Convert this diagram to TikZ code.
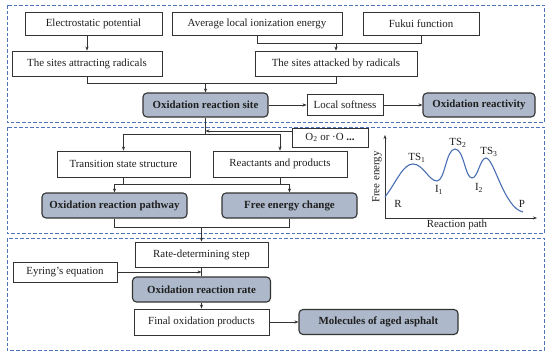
\documentclass[tikz,border=0pt]{standalone}
\usepackage{fontspec}
\setmainfont{Liberation Serif}
\usetikzlibrary{arrows.meta}
\definecolor{dashblue}{HTML}{4F73B8}
\definecolor{boxfill}{HTML}{ADB9CA}
\definecolor{linegray}{HTML}{333333}
\definecolor{curveblue}{HTML}{4A6FB5}
\begin{document}
\begin{tikzpicture}[x=1pt,y=-1pt, font=\fontsize{10.9}{12}\selectfont,
 panel/.style={draw=dashblue, line width=0.9pt, dash pattern=on 3.5pt off 2pt},
 plainbox/.style={draw=linegray, line width=0.9pt, fill=white, inner sep=0pt, align=center, text=black!88},
 keybox/.style={plainbox, fill=boxfill, rounded corners=4pt, line width=1.1pt, font=\fontsize{10.9}{12}\selectfont\bfseries},
 conn/.style={draw=linegray, line width=0.85pt},
 arr/.style={conn, -{Stealth[length=4pt,width=3.2pt]}},
 lbl/.style={inner sep=0pt, text=black!88},
]
\useasboundingbox[fill=white] (0,0) rectangle (550,356);
% panels
\draw[panel] (7,5) rectangle (544,122);
\draw[panel] (7,127) rectangle (544,233);
\draw[panel] (7,238) rectangle (544,350);
% panel 1
\node[plainbox, minimum width=137pt, minimum height=23pt] (es) at (93.5,23.5) {Electrostatic potential};
\node[plainbox, minimum width=170pt, minimum height=23pt] (ali) at (257,23.5) {Average local ionization energy};
\node[plainbox, minimum width=116pt, minimum height=23pt] (fk) at (421,23.5) {Fukui function};
\node[plainbox, minimum width=150pt, minimum height=25pt] (attr) at (87,63.5) {The sites attracting radicals};
\node[plainbox, minimum width=162pt, minimum height=25pt] (atk) at (336,63.5) {The sites attacked by radicals};
\node[keybox, minimum width=125pt, minimum height=24pt] (site) at (205.5,105) {Oxidation reaction site};
\node[plainbox, minimum width=76pt, minimum height=21pt] (ls) at (345,105) {Local softness};
\node[keybox, minimum width=112pt, minimum height=24pt] (react) at (479,105) {Oxidation reactivity};
% panel 2
\node[plainbox, minimum width=76pt, minimum height=19pt] (o2) at (330,137.5) {O\textsubscript{2} or ·O \textbf{...}};
\node[plainbox, minimum width=133pt, minimum height=26pt] (ts) at (123.5,164) {Transition state structure};
\node[plainbox, minimum width=134pt, minimum height=26pt] (rp) at (280,164) {Reactants and products};
\node[keybox, minimum width=145pt, minimum height=25pt] (path) at (114.5,205.5) {Oxidation reaction pathway};
\node[keybox, minimum width=135pt, minimum height=25pt] (fe) at (289.5,205.5) {Free energy change};
% panel 3
\node[plainbox, minimum width=133pt, minimum height=25pt] (rds) at (201.5,254.5) {Rate-determining step};
\node[plainbox, minimum width=104pt, minimum height=20pt] (ey) at (65,272) {Eyring’s equation};
\node[keybox, minimum width=138pt, minimum height=25pt] (rate) at (201.5,289.5) {Oxidation reaction rate};
\node[plainbox, minimum width=135pt, minimum height=26pt] (fin) at (201.5,322) {Final oxidation products};
\node[keybox, minimum width=159pt, minimum height=25pt] (mol) at (378.5,322) {Molecules of aged asphalt};
% connectors panel 1
\draw[arr] (es.south -| attr.north) -- (attr.north);
\coordinate (j1) at (0,43);
\draw[conn] (ali.south) -- (ali.south |- j1) -- (fk.south |- j1) -- (fk.south);
\draw[arr] (atk.north |- j1) -- (atk.north);
\coordinate (j2) at (0,83);
\draw[conn] (attr.south) -- (attr.south |- j2) -- (atk.south |- j2) -- (atk.south);
\draw[arr] (site.north |- j2) -- (site.north);
\draw[arr] (site.east) -- (ls.west);
\draw[arr] (ls.east) -- (react.west);
% connectors panel 2
\coordinate (j3) at (0,134);
\coordinate (j4) at (0,131);
\draw[conn] (site.south) -- (site.south |- j3);
\draw[conn] (ts.north |- j3) -- (rp.north |- j3);
\draw[arr] (ts.north |- j3) -- (ts.north);
\draw[arr] (rp.north |- j3) -- (rp.north);
\draw[arr] (o2.west |- j4) -- (site.south |- j4);
\coordinate (j5) at (0,184);
\draw[conn] (ts.south) -- (ts.south |- j5);
\draw[conn] (rp.south) -- (rp.south |- j5);
\draw[conn] (path.north |- j5) -- (fe.north |- j5);
\draw[arr] (path.north |- j5) -- (path.north);
\draw[arr] (fe.north |- j5) -- (fe.north);
\coordinate (j6) at (0,227);
\draw[conn] (path.south) -- (path.south |- j6) -- (fe.south |- j6) -- (fe.south);
\draw[arr] (rds.north |- j6) -- (rds.north);
% connectors panel 3
\draw[arr] (ey.east) -- (rds.south |- ey.east);
\draw[conn] (rds.south) -- (rate.north);
\draw[arr] (rate.south) -- (fin.north);
\draw[arr] (fin.east) -- (mol.west);
% energy plot
\coordinate (orig) at (385,218);
\coordinate (ytop) at (385,135);
\coordinate (xend) at (537,218);
\draw[conn, -{Stealth[length=4pt,width=3pt]}] (orig) -- (ytop);
\draw[conn, -{Stealth[length=4pt,width=3pt]}] (orig) -- (xend);
\draw[curveblue, line width=1.1pt]
 (385,197) .. controls (397,181) and (403,164) .. (413,164)
 .. controls (423,164) and (429,181) .. (437,181)
 .. controls (445,181) and (446,149) .. (455,149)
 .. controls (464,149) and (465,178) .. (472,178)
 .. controls (478,178) and (480,158) .. (486,158)
 .. controls (494,158) and (504,208) .. (523,212);
\node[lbl] (lts1) at (417,158) {TS\textsubscript{1}};
\node[lbl] (lts2) at (458,143) {TS\textsubscript{2}};
\node[lbl] (lts3) at (489,152) {TS\textsubscript{3}};
\node[lbl] (li1) at (439,190) {I\textsubscript{1}};
\node[lbl] (li2) at (479,188) {I\textsubscript{2}};
\node[lbl] (lr) at (398,204) {R};
\node[lbl] (lp) at (522,204) {P};
\node[lbl, rotate=90] (lfe) at (377,177) {Free energy};
\node[lbl] (lrp) at (457,225) {Reaction path};
\end{tikzpicture}
\end{document}
